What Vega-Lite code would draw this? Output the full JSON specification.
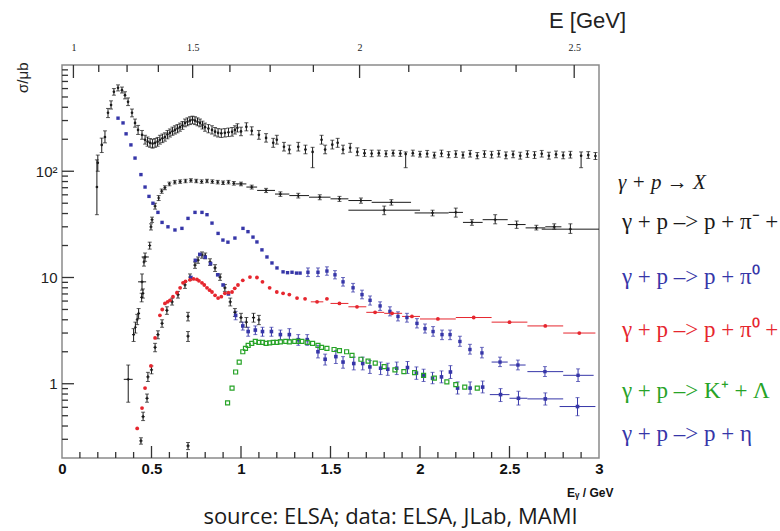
{
  "$schema": "https://vega.github.io/schema/vega-lite/v6.json",
  "autosize": {"type": "none"},
  "width": 537,
  "height": 393,
  "padding": {"left": 62, "top": 65, "right": 181, "bottom": 73},
  "background": "white",
  "config": {
    "view": {"stroke": "#8a8a8a", "strokeWidth": 1.5},
    "axis": {"domain": false, "grid": false, "ticks": false, "labelColor": "#222"}
  },
  "title": {
    "text": "source: ELSA; data: ELSA, JLab, MAMI",
    "orient": "bottom", "anchor": "middle", "frame": "group",
    "dx": 60, "offset": 9, "baseline": "top",
    "font": "Open Sans", "fontSize": 22, "fontWeight": "normal", "color": "#1a1a1a"
  },
  "datasets": {
    "xs": [
      {"s":"tot","e":0.195,"v":71,"lo":39,"hi":128},{"s":"tot","e":0.2,"v":120,"lo":100,"hi":142},{"s":"tot","e":0.222,"v":177,"lo":150,"hi":205},{"s":"tot","e":0.24,"v":210,"lo":185,"hi":240},{"s":"tot","e":0.257,"v":355,"lo":320,"hi":390},{"s":"tot","e":0.274,"v":420,"lo":385,"hi":460},{"s":"tot","e":0.29,"v":560,"lo":520,"hi":600},{"s":"tot","e":0.313,"v":610,"lo":570,"hi":650},{"s":"tot","e":0.335,"v":580,"lo":545,"hi":620},{"s":"tot","e":0.352,"v":520,"lo":480,"hi":560},{"s":"tot","e":0.369,"v":450,"lo":415,"hi":490},{"s":"tot","e":0.391,"v":355,"lo":325,"hi":385},{"s":"tot","e":0.408,"v":285,"lo":260,"hi":310},{"s":"tot","e":0.425,"v":245,"lo":222,"hi":270},{"s":"tot","e":0.447,"v":220,"lo":200,"hi":242},{"s":"tot","e":0.464,"v":198,"lo":180,"hi":218},{"s":"tot","e":0.478,"v":190,"lo":172,"hi":210},{"s":"tot","e":0.492,"v":185,"lo":168,"hi":203},{"s":"tot","e":0.506,"v":182,"lo":165,"hi":200},{"s":"tot","e":0.52,"v":185,"lo":168,"hi":203},{"s":"tot","e":0.534,"v":190,"lo":172,"hi":208},{"s":"tot","e":0.547,"v":198,"lo":180,"hi":218},{"s":"tot","e":0.561,"v":204,"lo":186,"hi":224},{"s":"tot","e":0.575,"v":210,"lo":192,"hi":230},{"s":"tot","e":0.589,"v":222,"lo":202,"hi":242},{"s":"tot","e":0.603,"v":230,"lo":210,"hi":250},{"s":"tot","e":0.617,"v":238,"lo":218,"hi":260},{"s":"tot","e":0.631,"v":245,"lo":224,"hi":268},{"s":"tot","e":0.645,"v":252,"lo":230,"hi":275},{"s":"tot","e":0.659,"v":260,"lo":238,"hi":284},{"s":"tot","e":0.673,"v":270,"lo":248,"hi":294},{"s":"tot","e":0.687,"v":285,"lo":262,"hi":310},{"s":"tot","e":0.701,"v":292,"lo":268,"hi":318},{"s":"tot","e":0.715,"v":300,"lo":275,"hi":326},{"s":"tot","e":0.729,"v":305,"lo":280,"hi":330},{"s":"tot","e":0.743,"v":300,"lo":275,"hi":326},{"s":"tot","e":0.757,"v":292,"lo":268,"hi":318},{"s":"tot","e":0.771,"v":285,"lo":262,"hi":310},{"s":"tot","e":0.785,"v":272,"lo":250,"hi":296},{"s":"tot","e":0.799,"v":260,"lo":238,"hi":284},{"s":"tot","e":0.818,"v":252,"lo":230,"hi":275},{"s":"tot","e":0.838,"v":245,"lo":224,"hi":268},{"s":"tot","e":0.855,"v":236,"lo":215,"hi":258},{"s":"tot","e":0.872,"v":230,"lo":210,"hi":252},{"s":"tot","e":0.89,"v":228,"lo":208,"hi":250},{"s":"tot","e":0.91,"v":230,"lo":210,"hi":252},{"s":"tot","e":0.93,"v":233,"lo":212,"hi":255},{"s":"tot","e":0.95,"v":235,"lo":214,"hi":258},{"s":"tot","e":0.966,"v":245,"lo":224,"hi":268},{"s":"tot","e":0.98,"v":256,"lo":234,"hi":280},{"s":"tot","e":1.0,"v":237,"lo":216,"hi":260},{"s":"tot","e":1.03,"v":262,"lo":240,"hi":286},{"s":"tot","e":1.06,"v":240,"lo":220,"hi":262},{"s":"tot","e":1.1,"v":220,"lo":200,"hi":242},{"s":"tot","e":1.14,"v":206,"lo":188,"hi":226},{"s":"tot","e":1.18,"v":185,"lo":168,"hi":204},{"s":"tot","e":1.2,"v":198,"lo":180,"hi":218},{"s":"tot","e":1.24,"v":170,"lo":155,"hi":187},{"s":"tot","e":1.27,"v":160,"lo":146,"hi":176},{"s":"tot","e":1.32,"v":170,"lo":155,"hi":187},{"s":"tot","e":1.36,"v":160,"lo":146,"hi":176},{"s":"tot","e":1.4,"v":152,"lo":108,"hi":168},{"s":"tot","e":1.45,"v":198,"lo":180,"hi":218},{"s":"tot","e":1.47,"v":160,"lo":146,"hi":176},{"s":"tot","e":1.51,"v":178,"lo":162,"hi":196},{"s":"tot","e":1.54,"v":185,"lo":168,"hi":204},{"s":"tot","e":1.57,"v":160,"lo":146,"hi":176},{"s":"tot","e":1.61,"v":166,"lo":151,"hi":183},{"s":"tot","e":1.65,"v":152,"lo":140,"hi":166},{"s":"tot","e":1.69,"v":148,"lo":138,"hi":160},{"s":"tot","e":1.73,"v":147,"lo":137,"hi":158},{"s":"tot","e":1.77,"v":148,"lo":139,"hi":158},{"s":"tot","e":1.81,"v":146,"lo":137,"hi":156},{"s":"tot","e":1.85,"v":148,"lo":139,"hi":158},{"s":"tot","e":1.89,"v":147,"lo":138,"hi":157},{"s":"tot","e":1.92,"v":145,"lo":108,"hi":152},{"s":"tot","e":1.96,"v":148,"lo":139,"hi":158},{"s":"tot","e":2.0,"v":144,"lo":136,"hi":154},{"s":"tot","e":2.04,"v":146,"lo":136,"hi":157},{"s":"tot","e":2.08,"v":141,"lo":133,"hi":151},{"s":"tot","e":2.12,"v":147,"lo":137,"hi":158},{"s":"tot","e":2.16,"v":143,"lo":134,"hi":153},{"s":"tot","e":2.2,"v":145,"lo":135,"hi":156},{"s":"tot","e":2.24,"v":142,"lo":133,"hi":152},{"s":"tot","e":2.28,"v":146,"lo":136,"hi":157},{"s":"tot","e":2.32,"v":140,"lo":131,"hi":150},{"s":"tot","e":2.36,"v":145,"lo":135,"hi":156},{"s":"tot","e":2.4,"v":143,"lo":133,"hi":154},{"s":"tot","e":2.44,"v":146,"lo":136,"hi":157},{"s":"tot","e":2.48,"v":141,"lo":131,"hi":152},{"s":"tot","e":2.52,"v":144,"lo":134,"hi":155},{"s":"tot","e":2.56,"v":140,"lo":130,"hi":151},{"s":"tot","e":2.6,"v":145,"lo":135,"hi":156},{"s":"tot","e":2.64,"v":142,"lo":132,"hi":153},{"s":"tot","e":2.68,"v":146,"lo":136,"hi":157},{"s":"tot","e":2.72,"v":140,"lo":130,"hi":151},{"s":"tot","e":2.76,"v":144,"lo":134,"hi":155},{"s":"tot","e":2.8,"v":141,"lo":131,"hi":152},{"s":"tot","e":2.84,"v":143,"lo":133,"hi":154},{"s":"tot","e":2.9,"v":140,"lo":108,"hi":152},{"s":"tot","e":2.94,"v":142,"lo":132,"hi":153},{"s":"tot","e":2.98,"v":139,"lo":129,"hi":150},

      {"s":"pp","e":0.37,"v":1.1,"lo":0.67,"hi":1.5,"xl":0.345,"xh":0.395},{"s":"pp","e":0.4,"v":2.9,"lo":2.5,"hi":3.3},{"s":"pp","e":0.41,"v":3.4,"lo":3.0,"hi":3.8},{"s":"pp","e":0.42,"v":4.0,"lo":3.6,"hi":4.5},{"s":"pp","e":0.428,"v":4.6,"lo":4.1,"hi":5.1},{"s":"pp","e":0.445,"v":6.5,"lo":5.9,"hi":7.1},{"s":"pp","e":0.452,"v":7.1,"lo":6.4,"hi":7.8},{"s":"pp","e":0.447,"v":9.1,"lo":7.6,"hi":10.8,"xl":0.425,"xh":0.47},{"s":"pp","e":0.458,"v":14,"lo":12.8,"hi":15.3},{"s":"pp","e":0.464,"v":15.6,"lo":14.2,"hi":17,"xl":0.445,"xh":0.485},{"s":"pp","e":0.49,"v":20,"lo":18.5,"hi":21.5},{"s":"pp","e":0.497,"v":30,"lo":28,"hi":32},{"s":"pp","e":0.503,"v":35,"lo":33,"hi":37},{"s":"pp","e":0.52,"v":47,"lo":44,"hi":50},{"s":"pp","e":0.54,"v":56,"lo":53,"hi":59},{"s":"pp","e":0.557,"v":65,"lo":62,"hi":68},{"s":"pp","e":0.575,"v":70,"lo":67,"hi":73},{"s":"pp","e":0.6,"v":76,"lo":73,"hi":79},{"s":"pp","e":0.63,"v":79,"lo":76,"hi":82},{"s":"pp","e":0.66,"v":80,"lo":77,"hi":83},{"s":"pp","e":0.69,"v":81,"lo":78,"hi":84},{"s":"pp","e":0.72,"v":82,"lo":79,"hi":85},{"s":"pp","e":0.75,"v":81,"lo":78,"hi":84},{"s":"pp","e":0.78,"v":80,"lo":77,"hi":83},{"s":"pp","e":0.81,"v":81,"lo":78,"hi":84},{"s":"pp","e":0.84,"v":80,"lo":77,"hi":83},{"s":"pp","e":0.87,"v":79,"lo":76,"hi":82},{"s":"pp","e":0.9,"v":78,"lo":75,"hi":81},{"s":"pp","e":0.93,"v":79,"lo":76,"hi":82},{"s":"pp","e":0.96,"v":77,"lo":74,"hi":80},{"s":"pp","e":1.0,"v":76,"lo":73,"hi":79,"xl":0.97,"xh":1.03},{"s":"pp","e":1.06,"v":71,"lo":68,"hi":74,"xl":1.03,"xh":1.09},{"s":"pp","e":1.14,"v":66,"lo":63,"hi":69,"xl":1.09,"xh":1.19},{"s":"pp","e":1.22,"v":61,"lo":58,"hi":64,"xl":1.19,"xh":1.27},{"s":"pp","e":1.32,"v":59,"lo":56,"hi":62,"xl":1.27,"xh":1.38},{"s":"pp","e":1.44,"v":57,"lo":54,"hi":60,"xl":1.38,"xh":1.5},{"s":"pp","e":1.55,"v":55,"lo":52,"hi":58,"xl":1.5,"xh":1.6},{"s":"pp","e":1.67,"v":53,"lo":50,"hi":56,"xl":1.6,"xh":1.73},{"s":"pp","e":1.84,"v":51,"lo":48,"hi":54,"xl":1.73,"xh":1.95},{"s":"pp","e":1.8,"v":43,"lo":39,"hi":47,"xl":1.6,"xh":2.0},{"s":"pp","e":2.07,"v":40.5,"lo":38,"hi":43,"xl":1.97,"xh":2.16},{"s":"pp","e":2.2,"v":41,"lo":37,"hi":45,"xl":2.16,"xh":2.24},{"s":"pp","e":2.29,"v":33,"lo":31,"hi":35,"xl":2.24,"xh":2.35},{"s":"pp","e":2.42,"v":35,"lo":32,"hi":39,"xl":2.35,"xh":2.49},{"s":"pp","e":2.54,"v":31.5,"lo":29,"hi":34,"xl":2.49,"xh":2.59},{"s":"pp","e":2.65,"v":29.3,"lo":28,"hi":31,"xl":2.59,"xh":2.7},{"s":"pp","e":2.75,"v":30,"lo":28.5,"hi":32,"xl":2.7,"xh":2.79},{"s":"pp","e":2.84,"v":28.5,"lo":26,"hi":32,"xl":2.68,"xh":3.0},

      {"s":"oth","e":0.441,"v":0.29,"lo":0.27,"hi":0.31},{"s":"oth","e":0.453,"v":0.49,"lo":0.45,"hi":0.54},{"s":"oth","e":0.475,"v":0.73,"lo":0.67,"hi":0.8},{"s":"oth","e":0.48,"v":1.16,"lo":1.05,"hi":1.28},{"s":"oth","e":0.5,"v":1.35,"lo":1.24,"hi":1.47},{"s":"oth","e":0.52,"v":2.2,"lo":2.0,"hi":2.4},{"s":"oth","e":0.536,"v":2.9,"lo":2.65,"hi":3.15},{"s":"oth","e":0.559,"v":3.7,"lo":3.4,"hi":4.0},{"s":"oth","e":0.586,"v":4.9,"lo":4.5,"hi":5.3},{"s":"oth","e":0.615,"v":5.9,"lo":5.5,"hi":6.4},{"s":"oth","e":0.648,"v":6.9,"lo":6.4,"hi":7.4},{"s":"oth","e":0.687,"v":8.5,"lo":7.9,"hi":9.1},{"s":"oth","e":0.715,"v":10.1,"lo":9.4,"hi":10.8},{"s":"oth","e":0.743,"v":13.1,"lo":12.2,"hi":14},{"s":"oth","e":0.76,"v":14.6,"lo":13.6,"hi":15.6},{"s":"oth","e":0.782,"v":16.3,"lo":15.2,"hi":17.4},{"s":"oth","e":0.8,"v":16,"lo":15,"hi":17},{"s":"oth","e":0.827,"v":14,"lo":13,"hi":15},{"s":"oth","e":0.855,"v":12.3,"lo":11.4,"hi":13.2},{"s":"oth","e":0.883,"v":10.1,"lo":9.4,"hi":10.8},{"s":"oth","e":0.91,"v":8,"lo":7.4,"hi":8.6},{"s":"oth","e":0.94,"v":5.9,"lo":5.4,"hi":6.4},{"s":"oth","e":0.966,"v":4.7,"lo":4.3,"hi":5.1},{"s":"oth","e":1.0,"v":4.2,"lo":3.8,"hi":4.6},{"s":"oth","e":1.03,"v":3.8,"lo":3.4,"hi":4.2},{"s":"oth","e":1.07,"v":4.2,"lo":3.8,"hi":4.6},{"s":"oth","e":1.1,"v":4.0,"lo":3.6,"hi":4.4},{"s":"oth","e":0.704,"v":4.3,"lo":3.9,"hi":4.7},{"s":"oth","e":0.704,"v":2.8,"lo":2.5,"hi":3.1},{"s":"oth","e":0.704,"v":0.26,"lo":0.24,"hi":0.28},

      {"s":"pi0","e":0.313,"v":316},{"s":"pi0","e":0.341,"v":285},{"s":"pi0","e":0.358,"v":225},{"s":"pi0","e":0.385,"v":177},{"s":"pi0","e":0.408,"v":133},{"s":"pi0","e":0.441,"v":93},{"s":"pi0","e":0.464,"v":71},{"s":"pi0","e":0.486,"v":58},{"s":"pi0","e":0.508,"v":50},{"s":"pi0","e":0.536,"v":41},{"s":"pi0","e":0.559,"v":33},{"s":"pi0","e":0.592,"v":30},{"s":"pi0","e":0.631,"v":28},{"s":"pi0","e":0.67,"v":29},{"s":"pi0","e":0.704,"v":36},{"s":"pi0","e":0.743,"v":41},{"s":"pi0","e":0.782,"v":41},{"s":"pi0","e":0.81,"v":39},{"s":"pi0","e":0.838,"v":32.5},{"s":"pi0","e":0.872,"v":26},{"s":"pi0","e":0.899,"v":22.5},{"s":"pi0","e":0.927,"v":21.5},{"s":"pi0","e":0.966,"v":23.5},{"s":"pi0","e":1.011,"v":29},{"s":"pi0","e":1.039,"v":27},{"s":"pi0","e":1.067,"v":24},{"s":"pi0","e":1.089,"v":21.6},{"s":"pi0","e":1.117,"v":18.2},{"s":"pi0","e":1.145,"v":15.6},{"s":"pi0","e":1.173,"v":13.7},{"s":"pi0","e":1.201,"v":12.3},{"s":"pi0","e":1.235,"v":11.3},{"s":"pi0","e":1.26,"v":11.1},{"s":"pi0","e":1.285,"v":11.2},{"s":"pi0","e":1.31,"v":11},{"s":"pi0","e":1.33,"v":11},{"s":"pi0","e":1.374,"v":11.2,"lo":10.2,"hi":12.3},{"s":"pi0","e":1.43,"v":11.2,"lo":10.2,"hi":12.3},{"s":"pi0","e":1.48,"v":11.5,"lo":10.5,"hi":12.6},{"s":"pi0","e":1.525,"v":10.6,"lo":9.7,"hi":11.6},{"s":"pi0","e":1.57,"v":9.1,"lo":8.3,"hi":10},{"s":"pi0","e":1.626,"v":8,"lo":7.3,"hi":8.8},{"s":"pi0","e":1.676,"v":6.9,"lo":6.3,"hi":7.6},{"s":"pi0","e":1.721,"v":6.1,"lo":5.5,"hi":6.7},{"s":"pi0","e":1.777,"v":5.4,"lo":4.9,"hi":5.9},{"s":"pi0","e":1.832,"v":4.8,"lo":4.35,"hi":5.3},{"s":"pi0","e":1.877,"v":4.3,"lo":3.9,"hi":4.75},{"s":"pi0","e":1.927,"v":4.2,"lo":3.8,"hi":4.6},{"s":"pi0","e":1.983,"v":3.7,"lo":3.35,"hi":4.1},{"s":"pi0","e":2.028,"v":3.3,"lo":3.0,"hi":3.65},{"s":"pi0","e":2.073,"v":3.1,"lo":2.8,"hi":3.45},{"s":"pi0","e":2.123,"v":2.9,"lo":2.6,"hi":3.2},{"s":"pi0","e":2.168,"v":2.9,"lo":2.6,"hi":3.2},{"s":"pi0","e":2.223,"v":2.5,"lo":2.25,"hi":2.8},{"s":"pi0","e":2.279,"v":2.1,"lo":1.9,"hi":2.35},{"s":"pi0","e":2.346,"v":1.95,"lo":1.75,"hi":2.2},{"s":"pi0","e":2.447,"v":1.6,"lo":1.45,"hi":1.78,"xl":2.4,"xh":2.49},{"s":"pi0","e":2.547,"v":1.5,"lo":1.35,"hi":1.67,"xl":2.5,"xh":2.59},{"s":"pi0","e":2.698,"v":1.3,"lo":1.17,"hi":1.45,"xl":2.6,"xh":2.8},{"s":"pi0","e":2.883,"v":1.2,"lo":1.05,"hi":1.38,"xl":2.8,"xh":2.97},

      {"s":"eta","e":0.72,"v":10},{"s":"eta","e":0.745,"v":14.5},{"s":"eta","e":0.77,"v":16.5},{"s":"eta","e":0.8,"v":15.5},{"s":"eta","e":0.83,"v":13.5},{"s":"eta","e":0.87,"v":10.6},{"s":"eta","e":0.9,"v":8.5},{"s":"eta","e":0.93,"v":7.0},{"s":"eta","e":0.97,"v":4.4,"lo":4.0,"hi":4.8},{"s":"eta","e":1.01,"v":3.5,"lo":3.2,"hi":3.8},{"s":"eta","e":1.04,"v":3.1,"lo":2.8,"hi":3.4},{"s":"eta","e":1.08,"v":3.2,"lo":2.9,"hi":3.5},{"s":"eta","e":1.12,"v":3.1,"lo":2.8,"hi":3.4},{"s":"eta","e":1.17,"v":3.1,"lo":2.8,"hi":3.4},{"s":"eta","e":1.22,"v":2.9,"lo":2.6,"hi":3.2},{"s":"eta","e":1.27,"v":2.9,"lo":2.6,"hi":3.3},{"s":"eta","e":1.32,"v":2.6,"lo":2.3,"hi":2.9},{"s":"eta","e":1.37,"v":2.6,"lo":2.3,"hi":2.9},{"s":"eta","e":1.43,"v":2.0,"lo":1.75,"hi":2.3},{"s":"eta","e":1.47,"v":1.7,"lo":1.5,"hi":1.9},{"s":"eta","e":1.53,"v":1.8,"lo":1.55,"hi":2.05},{"s":"eta","e":1.57,"v":1.6,"lo":1.4,"hi":1.8},{"s":"eta","e":1.63,"v":1.55,"lo":1.35,"hi":1.78},{"s":"eta","e":1.68,"v":1.55,"lo":1.35,"hi":1.78},{"s":"eta","e":1.72,"v":1.44,"lo":1.25,"hi":1.65},{"s":"eta","e":1.78,"v":1.4,"lo":1.22,"hi":1.6},{"s":"eta","e":1.82,"v":1.37,"lo":1.2,"hi":1.56},{"s":"eta","e":1.87,"v":1.4,"lo":1.22,"hi":1.6},{"s":"eta","e":1.93,"v":1.42,"lo":1.25,"hi":1.62},{"s":"eta","e":1.98,"v":1.26,"lo":1.1,"hi":1.44},{"s":"eta","e":2.02,"v":1.2,"lo":1.05,"hi":1.37},{"s":"eta","e":2.07,"v":1.13,"lo":1.0,"hi":1.28},{"s":"eta","e":2.12,"v":1.16,"lo":1.02,"hi":1.32},{"s":"eta","e":2.17,"v":1.29,"lo":1.12,"hi":1.48},{"s":"eta","e":2.21,"v":0.91,"lo":0.8,"hi":1.04},{"s":"eta","e":2.28,"v":0.91,"lo":0.8,"hi":1.04},{"s":"eta","e":2.35,"v":0.93,"lo":0.82,"hi":1.06},{"s":"eta","e":2.45,"v":0.79,"lo":0.68,"hi":0.9,"xl":2.39,"xh":2.5},{"s":"eta","e":2.55,"v":0.73,"lo":0.63,"hi":0.85,"xl":2.5,"xh":2.6},{"s":"eta","e":2.7,"v":0.72,"lo":0.63,"hi":0.82,"xl":2.6,"xh":2.8},{"s":"eta","e":2.88,"v":0.61,"lo":0.5,"hi":0.74,"xl":2.78,"xh":2.98},

      {"s":"pipi","e":0.42,"v":0.38},{"s":"pipi","e":0.447,"v":0.59},{"s":"pipi","e":0.464,"v":0.91},{"s":"pipi","e":0.497,"v":1.47},{"s":"pipi","e":0.52,"v":2.7},{"s":"pipi","e":0.547,"v":4.4},{"s":"pipi","e":0.56,"v":5.0},{"s":"pipi","e":0.575,"v":5.7},{"s":"pipi","e":0.59,"v":5.9},{"s":"pipi","e":0.603,"v":6.1},{"s":"pipi","e":0.62,"v":6.6},{"s":"pipi","e":0.642,"v":7.2},{"s":"pipi","e":0.66,"v":8.0},{"s":"pipi","e":0.676,"v":8.9},{"s":"pipi","e":0.69,"v":9.2},{"s":"pipi","e":0.715,"v":9.5},{"s":"pipi","e":0.735,"v":9.7},{"s":"pipi","e":0.754,"v":9.6},{"s":"pipi","e":0.765,"v":9.3},{"s":"pipi","e":0.782,"v":8.9},{"s":"pipi","e":0.795,"v":8.5},{"s":"pipi","e":0.81,"v":8.0},{"s":"pipi","e":0.825,"v":7.6},{"s":"pipi","e":0.838,"v":7.3},{"s":"pipi","e":0.855,"v":6.8},{"s":"pipi","e":0.872,"v":6.4},{"s":"pipi","e":0.89,"v":6.6},{"s":"pipi","e":0.91,"v":7.1},{"s":"pipi","e":0.93,"v":7.2},{"s":"pipi","e":0.95,"v":7.3},{"s":"pipi","e":0.965,"v":7.9},{"s":"pipi","e":0.983,"v":8.5},{"s":"pipi","e":1.01,"v":9.4},{"s":"pipi","e":1.05,"v":10.1},{"s":"pipi","e":1.089,"v":10.0},{"s":"pipi","e":1.12,"v":9.1},{"s":"pipi","e":1.16,"v":8.0},{"s":"pipi","e":1.2,"v":7.3},{"s":"pipi","e":1.235,"v":7.1},{"s":"pipi","e":1.27,"v":6.9},{"s":"pipi","e":1.313,"v":6.4},{"s":"pipi","e":1.358,"v":6.3},{"s":"pipi","e":1.425,"v":5.9,"xl":1.39,"xh":1.46},{"s":"pipi","e":1.48,"v":6.3},{"s":"pipi","e":1.55,"v":5.7,"xl":1.5,"xh":1.6},{"s":"pipi","e":1.648,"v":5.3,"xl":1.6,"xh":1.7},{"s":"pipi","e":1.749,"v":4.7,"xl":1.7,"xh":1.8},{"s":"pipi","e":1.844,"v":4.6,"xl":1.8,"xh":1.9},{"s":"pipi","e":1.955,"v":4.3,"xl":1.9,"xh":2.0},{"s":"pipi","e":2.1,"v":4.07,"xl":2.0,"xh":2.2},{"s":"pipi","e":2.3,"v":4.2,"xl":2.2,"xh":2.4},{"s":"pipi","e":2.5,"v":3.8,"xl":2.4,"xh":2.6},{"s":"pipi","e":2.7,"v":3.5,"xl":2.6,"xh":2.8},{"s":"pipi","e":2.89,"v":3.0,"xl":2.8,"xh":2.98},

      {"s":"kl","e":0.925,"v":0.66},{"s":"kl","e":0.95,"v":0.91},{"s":"kl","e":0.97,"v":1.29},{"s":"kl","e":0.99,"v":1.6},{"s":"kl","e":1.01,"v":2.0},{"s":"kl","e":1.025,"v":2.15},{"s":"kl","e":1.04,"v":2.3},{"s":"kl","e":1.06,"v":2.4},{"s":"kl","e":1.08,"v":2.5},{"s":"kl","e":1.1,"v":2.45},{"s":"kl","e":1.12,"v":2.45},{"s":"kl","e":1.14,"v":2.4},{"s":"kl","e":1.16,"v":2.42},{"s":"kl","e":1.18,"v":2.45},{"s":"kl","e":1.2,"v":2.45},{"s":"kl","e":1.22,"v":2.48},{"s":"kl","e":1.25,"v":2.5},{"s":"kl","e":1.27,"v":2.48},{"s":"kl","e":1.3,"v":2.5},{"s":"kl","e":1.32,"v":2.5},{"s":"kl","e":1.34,"v":2.5},{"s":"kl","e":1.37,"v":2.45},{"s":"kl","e":1.4,"v":2.4},{"s":"kl","e":1.43,"v":2.3},{"s":"kl","e":1.45,"v":2.2},{"s":"kl","e":1.48,"v":2.15},{"s":"kl","e":1.52,"v":2.1},{"s":"kl","e":1.55,"v":2.05},{"s":"kl","e":1.59,"v":2.0},{"s":"kl","e":1.62,"v":1.85},{"s":"kl","e":1.67,"v":1.7},{"s":"kl","e":1.71,"v":1.63},{"s":"kl","e":1.75,"v":1.56},{"s":"kl","e":1.8,"v":1.45},{"s":"kl","e":1.86,"v":1.35},{"s":"kl","e":1.91,"v":1.3},{"s":"kl","e":1.97,"v":1.27},{"s":"kl","e":2.02,"v":1.2},{"s":"kl","e":2.08,"v":1.13},{"s":"kl","e":2.15,"v":1.04},{"s":"kl","e":2.2,"v":0.98},{"s":"kl","e":2.25,"v":0.93},{"s":"kl","e":2.32,"v":0.91}
    ],
    "tags": [
      {"s":"pp","t":"γ + p –> p + π⁻ +","at":33.6},
      {"s":"pi0","t":"γ + p –> p + π⁰","at":10.2},
      {"s":"pipi","t":"γ + p –> p + π⁰ +","at":3.2},
      {"s":"kl","t":"γ + p –> K⁺ + Λ","at":0.86},
      {"s":"eta","t":"γ + p –> p + η","at":0.34}
    ],
    "head": [
      {"s":"tot","t":"γ + p → X","at":78}
    ],
    "eticks": [
      {"e":0.1,"b":0.2,"t":0.2278},{"e":0.2,"b":0.2,"t":0.2278},{"e":0.3,"b":0.2,"t":0.2278},{"e":0.4,"b":0.2,"t":0.2278},{"e":0.5,"b":0.2,"t":0.2594},{"e":0.6,"b":0.2,"t":0.2278},{"e":0.7,"b":0.2,"t":0.2278},{"e":0.8,"b":0.2,"t":0.2278},{"e":0.9,"b":0.2,"t":0.2278},{"e":1,"b":0.2,"t":0.2594},{"e":1.1,"b":0.2,"t":0.2278},{"e":1.2,"b":0.2,"t":0.2278},{"e":1.3,"b":0.2,"t":0.2278},{"e":1.4,"b":0.2,"t":0.2278},{"e":1.5,"b":0.2,"t":0.2594},{"e":1.6,"b":0.2,"t":0.2278},{"e":1.7,"b":0.2,"t":0.2278},{"e":1.8,"b":0.2,"t":0.2278},{"e":1.9,"b":0.2,"t":0.2278},{"e":2,"b":0.2,"t":0.2594},{"e":2.1,"b":0.2,"t":0.2278},{"e":2.2,"b":0.2,"t":0.2278},{"e":2.3,"b":0.2,"t":0.2278},{"e":2.4,"b":0.2,"t":0.2278},{"e":2.5,"b":0.2,"t":0.2594},{"e":2.6,"b":0.2,"t":0.2278},{"e":2.7,"b":0.2,"t":0.2278},{"e":2.8,"b":0.2,"t":0.2278},{"e":2.9,"b":0.2,"t":0.2278}
    ],
    "sticks": [
      {"y":0.3,"l":0,"r":0.0335},{"y":0.4,"l":0,"r":0.0335},{"y":0.5,"l":0,"r":0.0335},{"y":0.6,"l":0,"r":0.0335},{"y":0.7,"l":0,"r":0.0335},{"y":0.8,"l":0,"r":0.0335},{"y":0.9,"l":0,"r":0.0335},{"y":1,"l":0,"r":0.067},{"y":2,"l":0,"r":0.0335},{"y":3,"l":0,"r":0.0335},{"y":4,"l":0,"r":0.0335},{"y":5,"l":0,"r":0.0335},{"y":6,"l":0,"r":0.0335},{"y":7,"l":0,"r":0.0335},{"y":8,"l":0,"r":0.0335},{"y":9,"l":0,"r":0.0335},{"y":10,"l":0,"r":0.067},{"y":20,"l":0,"r":0.0335},{"y":30,"l":0,"r":0.0335},{"y":40,"l":0,"r":0.0335},{"y":50,"l":0,"r":0.0335},{"y":60,"l":0,"r":0.0335},{"y":70,"l":0,"r":0.0335},{"y":80,"l":0,"r":0.0335},{"y":90,"l":0,"r":0.0335},{"y":100,"l":0,"r":0.067},{"y":200,"l":0,"r":0.0335},{"y":300,"l":0,"r":0.0335},{"y":400,"l":0,"r":0.0335},{"y":500,"l":0,"r":0.0335},{"y":600,"l":0,"r":0.0335},{"y":700,"l":0,"r":0.0335},{"y":800,"l":0,"r":0.0335},{"y":900,"l":0,"r":0.0335}
    ],
    "wticks": [
      {"w":1,"b":754.6,"t":1000},{"w":1.125,"b":859,"t":1000},{"w":1.25,"b":859,"t":1000},{"w":1.375,"b":859,"t":1000},{"w":1.5,"b":754.6,"t":1000},{"w":1.625,"b":859,"t":1000},{"w":1.75,"b":859,"t":1000},{"w":1.875,"b":859,"t":1000},{"w":2,"b":754.6,"t":1000},{"w":2.125,"b":859,"t":1000},{"w":2.25,"b":859,"t":1000},{"w":2.375,"b":859,"t":1000},{"w":2.5,"b":754.6,"t":1000}
    ]
  },
  "layer": [
    {
      "data": {"name": "xs"},
      "layer": [
        {
          "transform": [{"filter": "isValid(datum.lo)"}],
          "mark": {"type": "rule", "strokeWidth": 1},
          "encoding": {
            "x": {
              "field": "e", "type": "quantitative",
              "scale": {"domain": [0, 3], "nice": false, "zero": false},
              "axis": {
                "orient": "bottom",
                "values": [0, 0.5, 1, 1.5, 2, 2.5, 3],
                "format": "~g",
                "labelFont": "Liberation Sans", "labelFontWeight": "bold", "labelFontSize": 15, "labelColor": "#111",
                "labelFlush": false, "labelOverlap": false, "labelPadding": 3,
                "title": "Eᵧ / GeV", "titleFont": "Liberation Sans", "titleFontSize": 12, "titleFontWeight": "bold", "titleColor": "#111",
                "titleAlign": "right", "titleBaseline": "alphabetic", "titleX": 551, "titleY": 38
              }
            },
            "y": {
              "field": "lo", "type": "quantitative",
              "scale": {"type": "log", "domain": [0.2, 1000], "nice": false},
              "axis": {
                "orient": "left",
                "values": [1, 10, 100],
                "labelExpr": "datum.value == 100 ? '10²' : datum.value == 10 ? '10' : '1'",
                "labelFont": "Liberation Sans", "labelFontSize": 15, "labelColor": "#222", "labelPadding": 5,
                "labelOverlap": false, "labelFlush": false,
                "title": "σ/μb", "titleFont": "Liberation Sans", "titleFontSize": 15, "titleFontWeight": "normal", "titleColor": "#222",
                "titleAlign": "right", "titleBaseline": "middle", "titleX": -40, "titleY": -3, "titleAngle": -90
              }
            },
            "y2": {"field": "hi"},
            "color": {
              "field": "s", "type": "nominal", "legend": null,
              "scale": {"domain": ["tot","pp","oth","pi0","eta","pipi","kl"], "range": ["#1a1a1a","#1a1a1a","#1a1a1a","#3636a8","#3636a8","#e6262e","#27a327"]}
            }
          }
        },
        {
          "transform": [{"filter": "isValid(datum.lo)"}],
          "mark": {"type": "tick", "orient": "horizontal", "size": 4, "thickness": 1},
          "encoding": {
            "x": {"field": "e", "type": "quantitative"},
            "y": {"field": "lo", "type": "quantitative"},
            "color": {"field": "s", "type": "nominal", "legend": null}
          }
        },
        {
          "transform": [{"filter": "isValid(datum.hi)"}],
          "mark": {"type": "tick", "orient": "horizontal", "size": 4, "thickness": 1},
          "encoding": {
            "x": {"field": "e", "type": "quantitative"},
            "y": {"field": "hi", "type": "quantitative"},
            "color": {"field": "s", "type": "nominal", "legend": null}
          }
        },
        {
          "transform": [{"filter": "isValid(datum.xl)"}],
          "mark": {"type": "rule", "strokeWidth": 1},
          "encoding": {
            "x": {"field": "xl", "type": "quantitative"},
            "x2": {"field": "xh"},
            "y": {"field": "v", "type": "quantitative"},
            "color": {"field": "s", "type": "nominal", "legend": null}
          }
        },
        {
          "transform": [{"filter": "datum.s != 'kl'"}],
          "mark": {"type": "point", "filled": true, "opacity": 1},
          "encoding": {
            "x": {"field": "e", "type": "quantitative"},
            "y": {"field": "v", "type": "quantitative"},
            "color": {"field": "s", "type": "nominal", "legend": null},
            "shape": {"field": "s", "type": "nominal", "legend": null,
              "scale": {"domain": ["tot","pp","oth","pi0","eta","pipi","kl"], "range": ["circle","cross","cross","square","square","circle","square"]}},
            "size": {"field": "s", "type": "nominal", "legend": null,
              "scale": {"domain": ["tot","pp","oth","pi0","eta","pipi","kl"], "range": [7,16,16,56,50,50,16]}}
          }
        },
        {
          "transform": [{"filter": "datum.s == 'kl'"}],
          "mark": {"type": "point", "filled": false, "opacity": 1, "strokeWidth": 1.2, "shape": "square", "size": 16},
          "encoding": {
            "x": {"field": "e", "type": "quantitative"},
            "y": {"field": "v", "type": "quantitative"},
            "color": {"field": "s", "type": "nominal", "legend": null}
          }
        },
        {
          "data": {"name": "eticks"},
          "mark": {"type": "rule", "color": "#333", "strokeWidth": 1.3},
          "encoding": {
            "x": {"field": "e", "type": "quantitative"},
            "y": {"field": "b", "type": "quantitative"},
            "y2": {"field": "t"}
          }
        },
        {
          "data": {"name": "sticks"},
          "mark": {"type": "rule", "color": "#333", "strokeWidth": 1.3},
          "encoding": {
            "y": {"field": "y", "type": "quantitative"},
            "x": {"field": "l", "type": "quantitative"},
            "x2": {"field": "r"}
          }
        },
        {
          "data": {"name": "head"},
          "mark": {"type": "text", "align": "left", "baseline": "middle", "font": "Liberation Serif", "fontStyle": "italic", "fontSize": 21},
          "encoding": {
            "x": {"datum": 3.106},
            "y": {"field": "at", "type": "quantitative"},
            "text": {"field": "t"},
            "color": {"field": "s", "type": "nominal", "legend": null}
          }
        },
        {
          "data": {"name": "tags"},
          "mark": {"type": "text", "align": "left", "baseline": "middle", "font": "Liberation Serif", "fontSize": 23},
          "encoding": {
            "x": {"datum": 3.128},
            "y": {"field": "at", "type": "quantitative"},
            "text": {"field": "t"},
            "color": {"field": "s", "type": "nominal", "legend": null}
          }
        }
      ]
    },
    {
      "data": {"name": "wticks"},
      "mark": {"type": "rule", "color": "#333", "strokeWidth": 1.3},
      "encoding": {
        "x": {
          "field": "w", "type": "quantitative",
          "scale": {"type": "pow", "exponent": 2, "domain": [0.93827, 2.55146], "nice": false, "zero": false},
          "axis": {
            "orient": "top",
            "values": [1, 1.5, 2, 2.5],
            "format": "~g",
            "labelFont": "Liberation Sans Narrow", "labelFontSize": 10, "labelColor": "#222",
            "labelFlush": false, "labelOverlap": false, "labelPadding": 13,
            "title": "E [GeV]", "titleFont": "Liberation Sans", "titleFontSize": 22, "titleFontWeight": "normal", "titleColor": "#222",
            "titleAlign": "center", "titleBaseline": "middle", "titleX": 525, "titleY": -45
          }
        },
        "y": {"field": "b", "type": "quantitative"},
        "y2": {"field": "t"}
      }
    }
  ],
  "resolve": {"scale": {"x": "independent"}, "axis": {"x": "independent"}}
}
